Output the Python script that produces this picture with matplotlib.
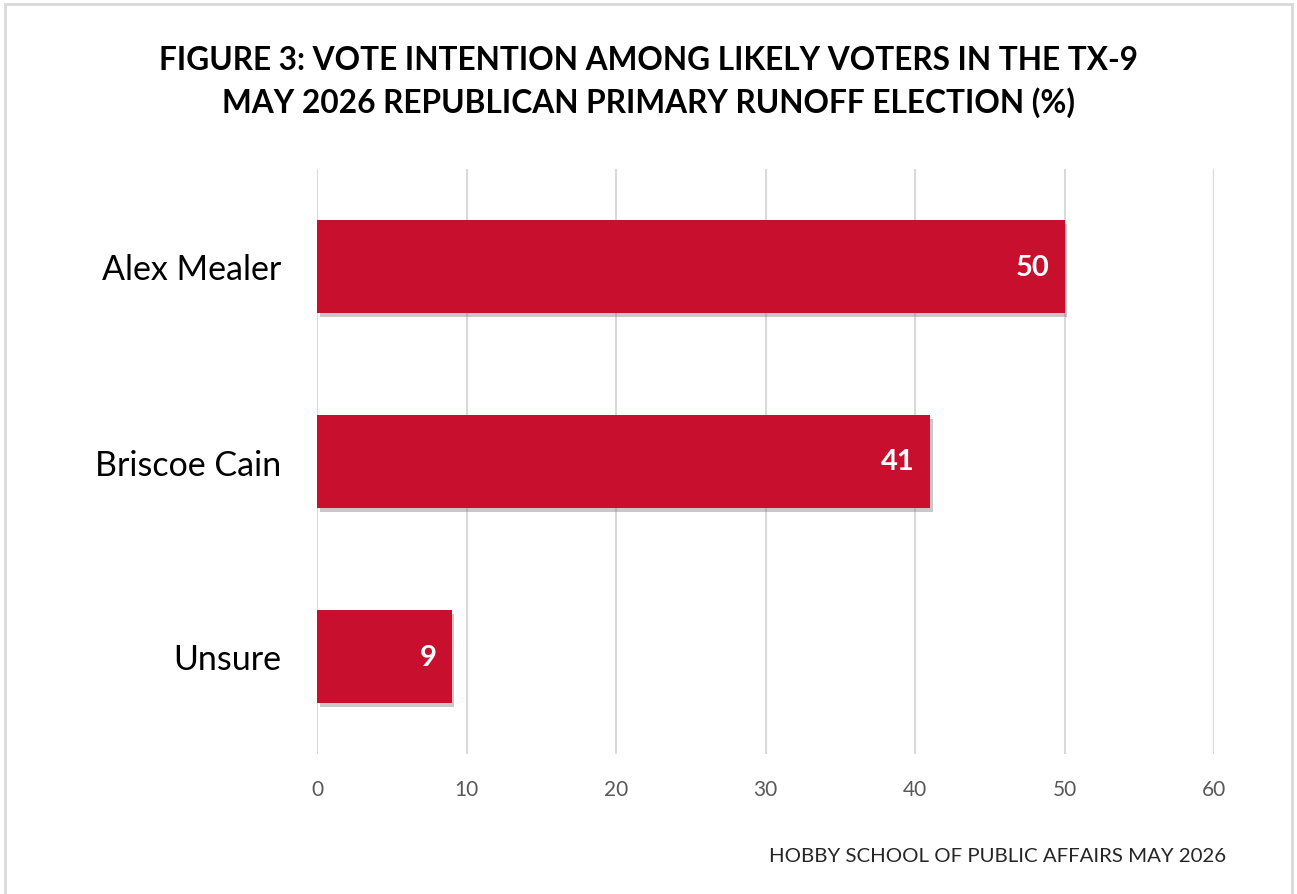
import matplotlib.pyplot as plt
import matplotlib.patheffects as pe
from matplotlib.patches import Rectangle

# data
candidates = ['Alex Mealer', 'Briscoe Cain', 'Unsure']
share = [50, 41, 9]
xticks = [0, 10, 20, 30, 40, 50, 60]

plt.rcParams['font.family'] = ['Lato', 'DejaVu Sans']

fig = plt.figure(figsize=(12.97, 8.95), dpi=100)
ax = fig.add_axes([317/1297, 1 - 755/895, (1214 - 317)/1297, (755 - 170)/895])

bars = ax.barh(range(len(candidates)), share, height=0.48, color='#C8102E', zorder=3)
for b in bars:
    b.set_path_effects([pe.SimplePatchShadow(offset=(2, -3), shadow_rgbFace='#777777', alpha=0.4), pe.Normal()])

for i, v in enumerate(share):
    ax.text(v - 1.0, i, str(v), ha='right', va='center', color='white',
            fontsize=21, fontweight='bold', zorder=4)

ax.set_xlim(0, 60)
ax.set_ylim(2.5, -0.5)
ax.set_xticks(xticks)
ax.set_yticks(range(len(candidates)))
ax.set_yticklabels(candidates, fontsize=24.5)
ax.tick_params(axis='y', length=0, pad=26, labelcolor='#000000')
ax.tick_params(axis='x', length=0, pad=18, labelsize=15, labelcolor='#595959')
ax.grid(axis='x', color='#D9D9D9', linewidth=1.5, zorder=0)
for s in ax.spines.values():
    s.set_visible(False)

fig.text(0.5, 1 - 60/895, 'FIGURE 3: VOTE INTENTION AMONG LIKELY VOTERS IN THE TX-9',
         ha='center', va='center', fontsize=22.8, fontweight='bold')
fig.text(0.5, 1 - 103/895, 'MAY 2026 REPUBLICAN PRIMARY RUNOFF ELECTION (%)',
         ha='center', va='center', fontsize=22.8, fontweight='bold')
fig.text(1226/1297, 1 - 857/895, 'HOBBY SCHOOL OF PUBLIC AFFAIRS MAY 2026',
         ha='right', va='center', fontsize=14.7, color='#262626')

fig.patches.append(Rectangle((5/1297, -0.01), 1287/1297, 1 - 5/895 + 0.01,
                             transform=fig.transFigure, fill=False,
                             edgecolor='#D9D9D9', linewidth=2))

fig.savefig('out.png', dpi=100)
